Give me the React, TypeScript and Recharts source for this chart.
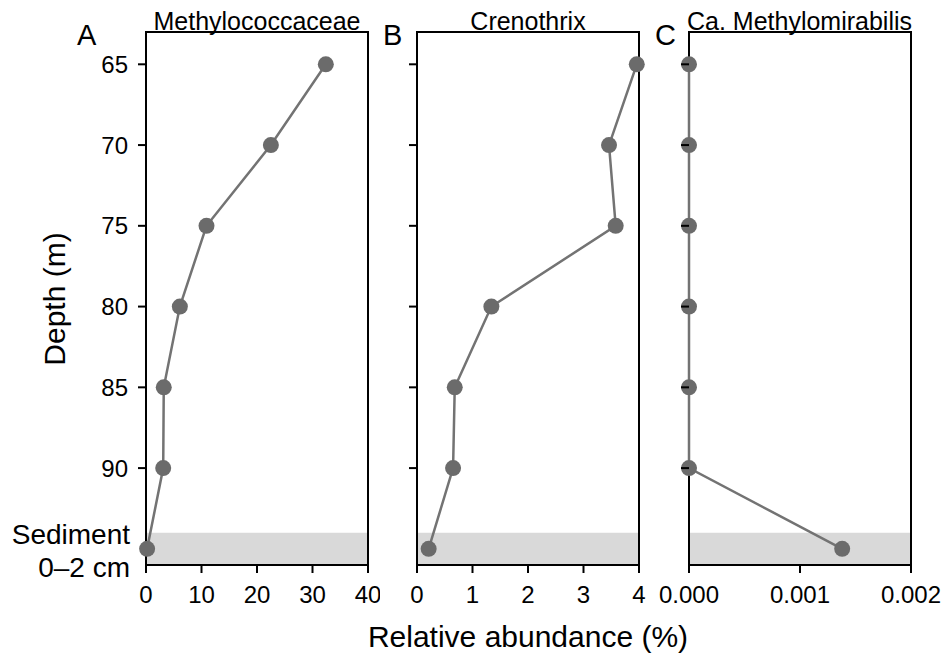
import React from "react";
import { ScatterChart, Scatter, XAxis, YAxis, ReferenceArea } from "recharts";

// depth profile, 95 = sediment 0-2 cm
const depths = [65, 70, 75, 80, 85, 90, 95];
const methylococcaceae = [32.4, 22.5, 10.9, 6.1, 3.2, 3.1, 0.2];
const crenothrix = [3.96, 3.46, 3.58, 1.34, 0.68, 0.65, 0.21];
const methylomirabilis = [0, 0, 0, 0, 0, 0, 0.00138];

const depthTicks = [65, 70, 75, 80, 85, 90, 95];
const ticksA = [0, 10, 20, 30, 40];
const ticksB = [0, 1, 2, 3, 4];
const ticksC = [0, 0.001, 0.002];

const titles = ["Methylococcaceae", "Crenothrix", "Ca. Methylomirabilis"];
const letters = ["A", "B", "C"];

const FONT = "'Liberation Sans', Arial, Helvetica, sans-serif";
const DOT = "#6b6b6b";
const LINE = "#737373";
const BAND = "#d9d9d9";

function DepthTick(props: any) {
  const { x, y, payload, showLabels } = props;
  const v = payload.value;
  if (v === 95) {
    if (!showLabels) return null;
    return (
      <text x={x + 2} y={y} textAnchor="end" fontSize={28} fill="#000">
        <tspan x={x + 2} dy={-4.5}>Sediment</tspan>
        <tspan x={x + 2} dy={33}>0–2 cm</tspan>
      </text>
    );
  }
  return (
    <g>
      <line x1={x + 10} x2={x + 18} y1={y} y2={y} stroke="#000" strokeWidth={2} />
      {showLabels && (
        <text x={x} y={y} dy="0.355em" textAnchor="end" fontSize={24} fill="#000">
          {v}
        </text>
      )}
    </g>
  );
}

function Dot(props: any) {
  return <circle cx={props.cx} cy={props.cy} r={8} fill={DOT} />;
}

function Panel({
  values,
  max,
  ticks,
  left,
  width,
  axisWidth,
  showLabels,
  fmt,
}: {
  values: number[];
  max: number;
  ticks: number[];
  left: number;
  width: number;
  axisWidth: number;
  showLabels: boolean;
  fmt?: (v: number) => string;
}) {
  const data = depths.map((d, i) => ({ depth: d, x: values[i] }));
  const plotW = 222;
  return (
    <div style={{ position: "absolute", left, top: 0 }}>
      <ScatterChart
        width={width}
        height={655}
        margin={{ top: 32, right: width - axisWidth - plotW, left: 0, bottom: 0 }}
      >
        <XAxis
          type="number"
          dataKey="x"
          domain={[0, max]}
          ticks={ticks}
          interval={0}
          height={90}
          tickSize={8}
          tickMargin={13}
          tickFormatter={fmt}
          tick={{ fontSize: 24, fill: "#000" }}
          axisLine={{ stroke: "#000", strokeWidth: 2 }}
          tickLine={{ stroke: "#000", strokeWidth: 2 }}
        />
        <YAxis
          type="number"
          dataKey="depth"
          reversed
          domain={[63, 96]}
          ticks={depthTicks}
          interval={0}
          width={axisWidth}
          tickSize={8}
          tickMargin={10}
          tickLine={false}
          axisLine={{ stroke: "#000", strokeWidth: 2 }}
          tick={(p: any) => <DepthTick {...p} showLabels={showLabels} />}
        />
        <ReferenceArea y1={94} y2={96} fill={BAND} fillOpacity={1} stroke="none" />
        <Scatter
          data={data}
          line={{ stroke: LINE, strokeWidth: 2.5 }}
          shape={<Dot />}
          isAnimationActive={false}
        />
        <ReferenceArea
          x1={0}
          x2={max}
          y1={63}
          y2={96}
          fill="none"
          fillOpacity={0}
          stroke="#000"
          strokeWidth={2}
        />
      </ScatterChart>
    </div>
  );
}

export default function App() {
  const centers = [257, 528, 799.5];
  const letterX = [77, 383, 655];
  return (
    <div
      style={{
        position: "absolute",
        left: 0,
        top: 0,
        width: 946,
        height: 655,
        background: "#fff",
        fontFamily: FONT,
      }}
    >
      <Panel values={methylococcaceae} max={40} ticks={ticksA} left={0} width={380} axisWidth={146} showLabels />
      <Panel values={crenothrix} max={4} ticks={ticksB} left={380} width={271} axisWidth={37} showLabels={false} />
      <Panel
        values={methylomirabilis}
        max={0.002}
        ticks={ticksC}
        left={651}
        width={295}
        axisWidth={38}
        showLabels={false}
        fmt={(v) => v.toFixed(3)}
      />
      <svg
        width={946}
        height={655}
        style={{ position: "absolute", left: 0, top: 0, pointerEvents: "none", fontFamily: FONT }}
      >
        {titles.map((t, i) => (
          <text key={t} x={centers[i]} y={30} textAnchor="middle" fontSize={25} fill="#000">
            {t}
          </text>
        ))}
        {letters.map((l, i) => (
          <text key={l} x={letterX[i]} y={45} fontSize={29} fill="#000">
            {l}
          </text>
        ))}
        <text x={65} y={299} transform="rotate(-90 65 299)" textAnchor="middle" fontSize={30} fill="#000">
          Depth (m)
        </text>
        <text x={528} y={647} textAnchor="middle" fontSize={30} fill="#000">
          Relative abundance (%)
        </text>
      </svg>
    </div>
  );
}
